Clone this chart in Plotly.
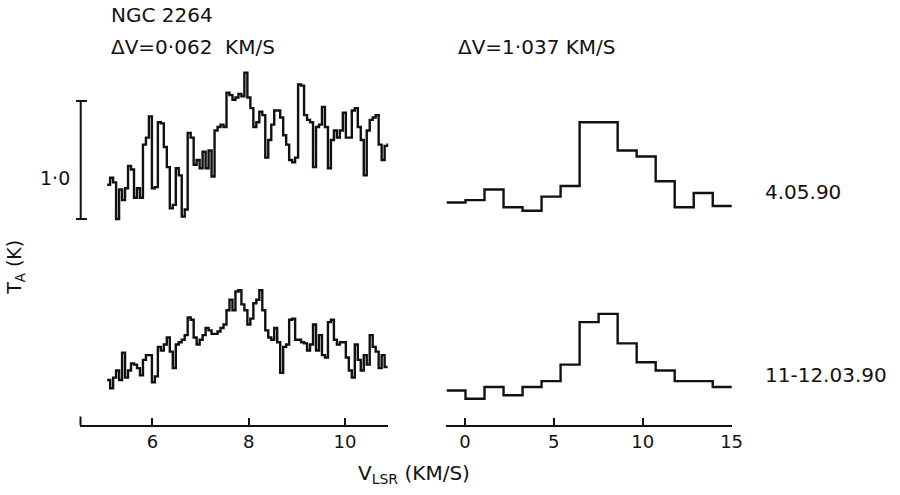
import plotly.graph_objects as go

# ---------------- data ----------------
# high-resolution spectra (channel width 0.062 km/s), antenna temperature in K
LEFT_V_START = 5.06      # left edge of the first channel (km/s)
LEFT_DV = 0.062          # channel width (km/s)
ta_hi_0405 = [0.29, 0.35, 0.31, 0.00, 0.25, 0.16, 0.26, 0.45, 0.42, 0.18,
              0.26, 0.18, 0.63, 0.69, 0.87, 0.26, 0.27, 0.82, 0.81, 0.61,
              0.44, 0.09, 0.12, 0.43, 0.37, 0.02, 0.08, 0.73, 0.69, 0.46,
              0.50, 0.43, 0.57, 0.43, 0.58, 0.36, 0.75, 0.78, 0.80, 0.78,
              1.07, 1.05, 1.01, 1.03, 1.06, 1.04, 1.24, 1.03, 0.94, 0.78,
              0.82, 0.91, 0.88, 0.52, 0.67, 0.80, 0.92, 0.92, 0.86, 0.71,
              0.63, 0.50, 0.48, 0.52, 1.14, 1.13, 0.88, 0.84, 0.82, 0.44,
              0.78, 0.80, 0.95, 0.78, 0.43, 0.67, 0.75, 0.69, 0.75, 0.90,
              0.69, 0.69, 0.92, 0.94, 0.78, 0.67, 0.37, 0.75, 0.84, 0.86,
              0.88, 0.63, 0.50, 0.62, 0.63]
ta_hi_1112 = [0.17, 0.10, 0.19, 0.25, 0.17, 0.40, 0.19, 0.25, 0.31, 0.30,
              0.27, 0.21, 0.34, 0.38, 0.38, 0.15, 0.20, 0.45, 0.42, 0.47,
              0.53, 0.41, 0.27, 0.47, 0.49, 0.51, 0.55, 0.70, 0.68, 0.53,
              0.47, 0.51, 0.55, 0.61, 0.59, 0.56, 0.56, 0.58, 0.61, 0.64,
              0.76, 0.85, 0.76, 0.92, 0.93, 0.81, 0.76, 0.64, 0.69, 0.82,
              0.85, 0.93, 0.76, 0.59, 0.53, 0.51, 0.61, 0.49, 0.23, 0.45,
              0.47, 0.68, 0.69, 0.51, 0.51, 0.49, 0.48, 0.42, 0.47, 0.64,
              0.42, 0.55, 0.38, 0.36, 0.66, 0.68, 0.51, 0.47, 0.49, 0.49,
              0.36, 0.25, 0.19, 0.47, 0.34, 0.25, 0.38, 0.30, 0.55, 0.45,
              0.41, 0.27, 0.38, 0.28]

# low-resolution spectra (channel width ~1.037 km/s)
RIGHT_V_START = -1.04
RIGHT_DV = 1.07
ta_lo_0405 = [0.14, 0.16, 0.25, 0.10, 0.07, 0.19, 0.28, 0.82, 0.82, 0.58,
              0.53, 0.32, 0.10, 0.22, 0.11]
ta_lo_1112 = [0.08, 0.01, 0.11, 0.04, 0.11, 0.16, 0.30, 0.66, 0.73, 0.48,
              0.32, 0.25, 0.16, 0.16, 0.11]

left_ticks = [6, 8, 10]
right_ticks = [0, 5, 10, 15]
dates = ["4.05.90", "11-12.03.90"]

# ---------------- layout constants ----------------
W, H = 900, 495
PX_PER_K = 118.0
BASE_PX = 400.0                      # pixel row of T=0 for the lower row
TOP_OFFSET = (BASE_PX - 219.0) / PX_PER_K
Y_RANGE = [(BASE_PX - H) / PX_PER_K, BASE_PX / PX_PER_K]
INK = "#111111"
FONT = "DejaVu Sans"
AXIS_PX = 425.5


def steps(v_start, dv, values, offset):
    xs = [v_start + dv * i for i in range(len(values) + 1)]
    ys = [v + offset for v in values] + [values[-1] + offset]
    return xs, ys


fig = go.Figure()
for vals, off in [(ta_hi_0405, TOP_OFFSET), (ta_hi_1112, 0.0)]:
    xs, ys = steps(LEFT_V_START, LEFT_DV, vals, off)
    fig.add_trace(go.Scatter(x=xs, y=ys, mode="lines", line_shape="hv",
                             line=dict(color=INK, width=2.4), xaxis="x", yaxis="y",
                             hoverinfo="skip"))
for vals, off in [(ta_lo_0405, TOP_OFFSET), (ta_lo_1112, 0.0)]:
    xs, ys = steps(RIGHT_V_START, RIGHT_DV, vals, off)
    fig.add_trace(go.Scatter(x=xs, y=ys, mode="lines", line_shape="hv",
                             line=dict(color=INK, width=2.4), xaxis="x2", yaxis="y",
                             hoverinfo="skip"))

axis_pos = 1 - AXIS_PX / H
common_x = dict(showline=True, linewidth=2, linecolor=INK, ticks="inside",
                ticklen=7, tickwidth=2, tickcolor=INK, showgrid=False,
                zeroline=False, anchor="free", position=axis_pos,
                tickfont=dict(family=FONT, size=18, color=INK))

fig.update_layout(
    width=W, height=H, margin=dict(l=0, r=0, t=0, b=0),
    paper_bgcolor="white", plot_bgcolor="white", showlegend=False,
    xaxis=dict(domain=[80.7 / W, 393 / W], range=[4.49, 10.9],
               tickvals=left_ticks, ticktext=[str(t) for t in left_ticks],
               **common_x),
    xaxis2=dict(domain=[452 / W, 741 / W], range=[-1.04, 15.02],
                tickvals=right_ticks, ticktext=[str(t) for t in right_ticks],
                **common_x),
    yaxis=dict(domain=[0, 1], range=Y_RANGE, visible=False, fixedrange=True),
)

# upturned end of the left velocity axis
fig.add_shape(type="line", xref="paper", yref="paper", x0=81.5 / W, x1=81.5 / W,
              y0=1 - AXIS_PX / H, y1=1 - (AXIS_PX - 9) / H,
              line=dict(color=INK, width=2))

# 1.0 K scale bar
bx = 81.7 / W
fig.add_shape(type="line", xref="paper", yref="y", x0=bx, x1=bx,
              y0=TOP_OFFSET, y1=TOP_OFFSET + 1.0, line=dict(color=INK, width=2))
for yy in (TOP_OFFSET, TOP_OFFSET + 1.0):
    fig.add_shape(type="line", xref="paper", yref="y", x0=77 / W, x1=88 / W,
                  y0=yy, y1=yy, line=dict(color=INK, width=2))


def label(text, px, py, size=20, xanchor="left", angle=0):
    fig.add_annotation(text=text, x=px / W, y=1 - py / H, xref="paper",
                       yref="paper", xanchor=xanchor, yanchor="middle",
                       showarrow=False, textangle=angle,
                       font=dict(family=FONT, size=size, color=INK))


label("NGC 2264", 110, 15)
label("\u0394V=0\u00b7062  KM/S", 110, 46.5)
label("\u0394V=1\u00b7037 KM/S", 462, 46.5)
label("1\u00b70", 73, 178, size=19, xanchor="right")
label(dates[0], 772, 192)
label(dates[1], 772, 375)
label("T<sub>A</sub> (K)", 15, 267, size=19, xanchor="center", angle=-90)
label("V<sub>LSR</sub> (KM/S)", 360, 474)

fig.write_html("out.html")
